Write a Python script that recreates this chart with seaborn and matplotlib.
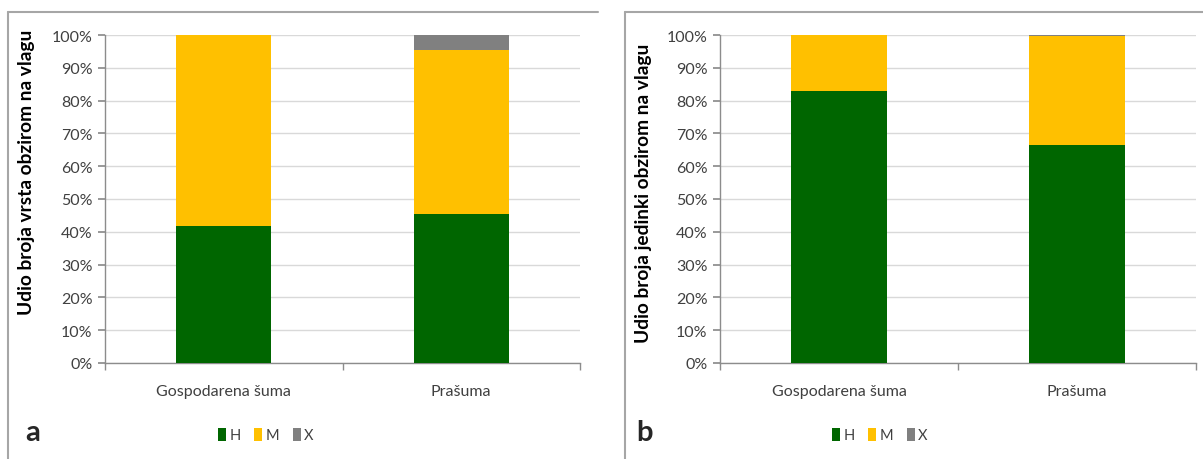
import numpy as np
import pandas as pd
import matplotlib
matplotlib.use("Agg")
import matplotlib.pyplot as plt
import seaborn as sns
from matplotlib.patches import Patch
from matplotlib.lines import Line2D
from matplotlib.ticker import PercentFormatter

# data (shares per moisture group)
categories = ["Gospodarena šuma", "Prašuma"]
groups = ["H", "M", "X"]
species_H = [0.417, 0.455]
species_M = [0.583, 0.500]
species_X = [0.000, 0.045]
indiv_H = [0.830, 0.665]
indiv_M = [0.170, 0.331]
indiv_X = [0.000, 0.004]
ylabels = ["Udio broja vrsta obzirom na vlagu", "Udio broja jedinki obzirom na vlagu"]
panel_letters = ["a", "b"]

colors = {"H": "#006600", "M": "#ffc000", "X": "#808080"}

sns.set_theme(style="white")
plt.rcParams["font.family"] = ["Lato", "DejaVu Sans"]

W, H = 1203, 460
fig = plt.figure(figsize=(W / 100, H / 100), dpi=100)


def px_axes(x0, y0, x1, y1):
    return fig.add_axes([x0 / W, 1 - y1 / H, (x1 - x0) / W, (y1 - y0) / H])


def stacked(ax, h, m, x, ylabel, label_pos):
    df = pd.DataFrame({"cat": categories, "H": h, "M": m, "X": x})
    df["HM"] = df["H"] + df["M"]
    df["HMX"] = df["HM"] + df["X"]
    # draw from the tallest cumulative layer down so each shows its own slice
    for col, g in [("HMX", "X"), ("HM", "M"), ("H", "H")]:
        sns.barplot(data=df, x="cat", y=col, color=colors[g], width=0.4,
                    saturation=1, linewidth=0, edgecolor="none", ax=ax, zorder=3)
    ax.set_xlim(-0.5, 1.5)
    ax.set_ylim(0, 1)
    ax.set_yticks(np.arange(0, 1.01, 0.1))
    ax.yaxis.set_major_formatter(PercentFormatter(1.0, decimals=0))
    ax.grid(axis="y", color="#d9d9d9", linewidth=1, zorder=0)
    ax.set_axisbelow(True)
    for s in ["top", "right"]:
        ax.spines[s].set_visible(False)
    for s in ["left", "bottom"]:
        ax.spines[s].set_color("#8c8c8c")
        ax.spines[s].set_linewidth(1)
    ax.set_xticks([-0.5, 0.5, 1.5], minor=True)
    ax.tick_params(axis="x", which="major", length=0, pad=15, labelsize=11.5, colors="#404040")
    ax.tick_params(axis="x", which="minor", length=5, color="#8c8c8c", direction="out", bottom=True)
    ax.tick_params(axis="y", length=5, color="#8c8c8c", direction="out", left=True,
                   labelsize=11.5, colors="#404040", pad=4)
    ax.set_xlabel("")
    ax.set_ylabel(ylabel, fontsize=13.8, fontweight="bold", color="black")
    ax.yaxis.set_label_coords(*label_pos)


# panel frames (top and left edges visible)
for x0, x1 in [(8, 598), (625, 1203)]:
    fig.add_artist(Line2D([x0 / W, x0 / W], [0, 1 - 13 / H], transform=fig.transFigure,
                          color="#a6a6a6", linewidth=1.5))
    fig.add_artist(Line2D([x0 / W, x1 / W], [1 - 13 / H, 1 - 13 / H], transform=fig.transFigure,
                          color="#a6a6a6", linewidth=1.5))

ax_a = px_axes(105, 36, 580, 364)
ax_b = px_axes(720, 36, 1196, 364)
stacked(ax_a, species_H, species_M, species_X, ylabels[0], (-0.148, 0.585))
stacked(ax_b, indiv_H, indiv_M, indiv_X, ylabels[1], (-0.143, 0.52))

handles = [Patch(facecolor=colors[g], edgecolor="none", label=g) for g in groups]
for cx, lx, letter in [(266, 25, "a"), (880, 636, "b")]:
    fig.legend(handles=handles, loc="center", bbox_to_anchor=(cx / W, 1 - 436 / H),
               ncol=3, frameon=False, handlelength=0.55, handleheight=1.0,
               handletextpad=0.25, columnspacing=0.9, fontsize=10.5, labelcolor="#404040")
    fig.text(lx / W, 1 - 441 / H, letter, fontsize=21, fontweight="bold", ha="left", va="baseline")

fig.savefig("out.png", dpi=100)
